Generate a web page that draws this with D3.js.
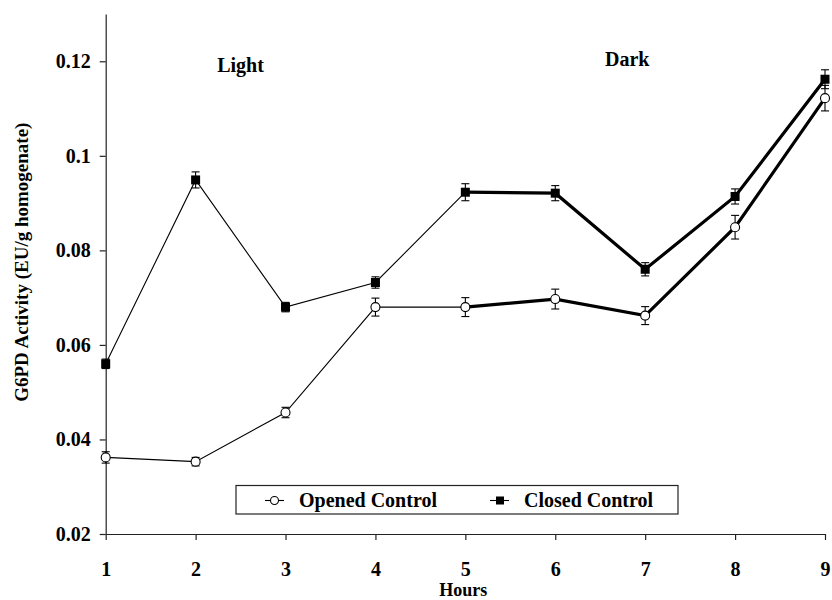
<!DOCTYPE html>
<html lang="en">
<head>
<meta charset="UTF-8">
<title>G6PD Activity</title>
<script src="https://cdn.jsdelivr.net/npm/d3@7"></script>
<style>
body { margin: 0; background: #fff; }
svg text { font-family: "Liberation Serif", "Times New Roman", serif; font-weight: bold; fill: #000; }
</style>
</head>
<body>
<div id="chart"></div>
<script>
// hours on the x axis
const hours = [1, 2, 3, 4, 5, 6, 7, 8, 9];

// series values (EU/g homogenate) and their error bar half-widths
const openedValues = [0.0362, 0.0353, 0.0457, 0.0680, 0.0680, 0.0697, 0.0662, 0.0849, 0.1122];
const openedErr    = [0.0012, 0.0009, 0.0011, 0.0019, 0.0020, 0.0021, 0.0019, 0.0025, 0.0027];
const closedValues = [0.0560, 0.0949, 0.0680, 0.0732, 0.0923, 0.0921, 0.0760, 0.0914, 0.1162];
const closedErr    = [0.0010, 0.0017, 0.0010, 0.0012, 0.0018, 0.0016, 0.0014, 0.0016, 0.0020];

const seriesNames = ["Opened Control", "Closed Control"];
const yTicks = [0.02, 0.04, 0.06, 0.08, 0.1, 0.12];
const yTickLabels = ["0.02", "0.04", "0.06", "0.08", "0.1", "0.12"];

// phase labels: text, hour position, value position
const phaseLabels = [["Light", 2.5, 0.1177], ["Dark", 6.8, 0.1189]];
// from this hour onward the lines are drawn bold
const DARK_START = 5;

const WIDTH = 832;
const HEIGHT = 600;

const svg = d3.select("#chart").append("svg")
    .attr("width", WIDTH)
    .attr("height", HEIGHT);

const x = d3.scaleLinear().domain([1, 9]).range([105.7, 825]);
const y = d3.scaleLinear().domain([0.02, 0.13]).range([534, 14]);

// axes
const xAxis = svg.append("g")
    .attr("transform", `translate(0,${y(0.02)})`)
    .call(d3.axisBottom(x).tickValues(hours).tickFormat(d3.format("d")).tickSize(6).tickSizeOuter(0).tickPadding(22));
const yAxis = svg.append("g")
    .attr("transform", `translate(${x(1)},0)`)
    .call(d3.axisLeft(y).tickValues(yTicks).tickFormat((d, i) => yTickLabels[i]).tickSize(6).tickSizeOuter(0).tickPadding(9));

for (const g of [xAxis, yAxis]) {
    g.attr("font-family", null).attr("font-size", null);
    g.selectAll("path, line").attr("stroke", "#222").attr("stroke-width", 1.2);
    g.selectAll("text").style("font-size", "20px");
}

svg.append("text")
    .attr("x", (x(1) + x(9)) / 2 - 2)
    .attr("y", 596)
    .attr("text-anchor", "middle")
    .style("font-size", "18px")
    .text("Hours");

svg.append("text")
    .attr("transform", `translate(28,${y(0.0775)}) rotate(-90)`)
    .attr("text-anchor", "middle")
    .style("font-size", "19px")
    .text("G6PD Activity (EU/g homogenate)");

svg.selectAll(".phase")
    .data(phaseLabels)
    .join("text")
    .attr("class", "phase")
    .attr("x", d => x(d[1]))
    .attr("y", d => y(d[2]))
    .attr("text-anchor", "middle")
    .style("font-size", "20px")
    .text(d => d[0]);

const series = [
    { values: openedValues, err: openedErr, symbol: "circle" },
    { values: closedValues, err: closedErr, symbol: "square" }
];

const line = d3.line().x(d => x(d[0])).y(d => y(d[1]));

for (const s of series) {
    const pts = hours.map((h, i) => [h, s.values[i], s.err[i]]);
    // thin part (light) and bold part (dark)
    svg.append("path")
        .attr("d", line(pts.filter(p => p[0] <= DARK_START)))
        .attr("fill", "none")
        .attr("stroke", "#000")
        .attr("stroke-width", 1.1);
    svg.append("path")
        .attr("d", line(pts.filter(p => p[0] >= DARK_START)))
        .attr("fill", "none")
        .attr("stroke", "#000")
        .attr("stroke-width", 3.2)
        .attr("stroke-linejoin", "miter");
}

for (const s of series) {
    const pts = hours.map((h, i) => [h, s.values[i], s.err[i]]);
    const eb = svg.append("g").attr("stroke", "#000").attr("stroke-width", 1.1);
    for (const p of pts) {
        const cx = x(p[0]);
        const y0 = y(p[1] - p[2]);
        const y1 = y(p[1] + p[2]);
        eb.append("line").attr("x1", cx).attr("x2", cx).attr("y1", y0).attr("y2", y1);
        eb.append("line").attr("x1", cx - 4).attr("x2", cx + 4).attr("y1", y0).attr("y2", y0);
        eb.append("line").attr("x1", cx - 4).attr("x2", cx + 4).attr("y1", y1).attr("y2", y1);
    }
    if (s.symbol === "circle") {
        svg.append("g").selectAll("circle")
            .data(pts)
            .join("circle")
            .attr("cx", d => x(d[0]))
            .attr("cy", d => y(d[1]))
            .attr("r", 4.5)
            .attr("fill", "#fff")
            .attr("stroke", "#000")
            .attr("stroke-width", 1.1);
    } else {
        svg.append("g").selectAll("rect")
            .data(pts)
            .join("rect")
            .attr("x", d => x(d[0]) - 4.5)
            .attr("y", d => y(d[1]) - 4.5)
            .attr("width", 9)
            .attr("height", 9)
            .attr("fill", "#000");
    }
}

// legend
const legend = svg.append("g");
legend.append("rect")
    .attr("x", 236)
    .attr("y", 485.5)
    .attr("width", 442)
    .attr("height", 28.5)
    .attr("fill", "#fff")
    .attr("stroke", "#222")
    .attr("stroke-width", 1.2);

const legendX = [265, 490];
seriesNames.forEach((name, i) => {
    const lx = legendX[i];
    const ly = 500.5;
    legend.append("line")
        .attr("x1", lx).attr("x2", lx + 19)
        .attr("y1", ly).attr("y2", ly)
        .attr("stroke", "#000").attr("stroke-width", 1.1);
    if (i === 0) {
        legend.append("circle")
            .attr("cx", lx + 9.5).attr("cy", ly).attr("r", 4)
            .attr("fill", "#fff").attr("stroke", "#000").attr("stroke-width", 1.1);
    } else {
        legend.append("rect")
            .attr("x", lx + 6).attr("y", ly - 4)
            .attr("width", 8).attr("height", 8)
            .attr("fill", "#000");
    }
    legend.append("text")
        .attr("x", lx + 34)
        .attr("y", 507)
        .style("font-size", "20px")
        .text(name);
});
</script>
</body>
</html>
